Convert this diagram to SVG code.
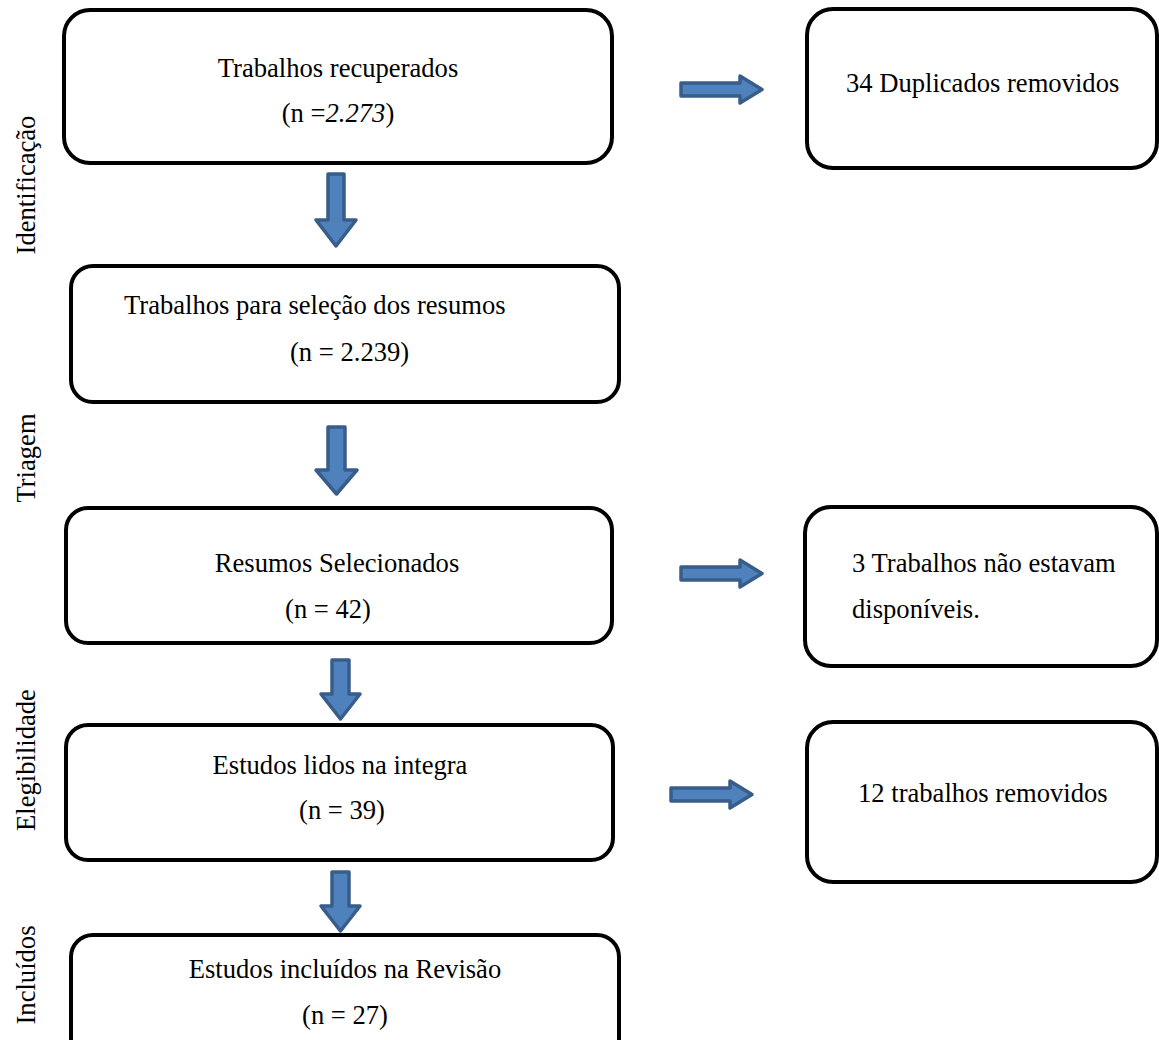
<svg xmlns="http://www.w3.org/2000/svg" width="1159" height="1040" viewBox="0 0 1159 1040">
<defs>
<style>
.box{fill:#fff;stroke:#000;stroke-width:4}
.arr{fill:#4F81BD;stroke:#385D8A;stroke-width:3.5;stroke-linejoin:round}
text{font-family:"Liberation Serif","Times New Roman",serif;font-size:26.6px;fill:#000}
.c{text-anchor:middle}
</style>
</defs>
<g id="labels">
<text class="c" transform="translate(35,185) rotate(-90)">Identificação</text>
<text class="c" transform="translate(35,458) rotate(-90)">Triagem</text>
<text class="c" transform="translate(35,760) rotate(-90)">Elegibilidade</text>
<text class="c" transform="translate(35,975) rotate(-90)">Incluídos</text>
</g>
<g id="connectors">
<path class="arr" d="M328,174 H344 V220 H356 L336,246 L316,220 H328 Z"/>
<path class="arr" d="M328,427 H345 V470 H357 L336.5,494 L316,470 H328 Z"/>
<path class="arr" d="M332,660 H349 V694 H360 L340.5,719 L321,694 H332 Z"/>
<path class="arr" d="M332,872 H349 V906 H360 L340.5,931 L321,906 H332 Z"/>
<path class="arr" d="M681,83 H740 V76 L762,89.5 L740,103 V96 H681 Z"/>
<path class="arr" d="M681,567 H740 V560 L762,573.5 L740,587 V580 H681 Z"/>
<path class="arr" d="M671,788 H730 V781 L752,794.5 L730,808 V801 H671 Z"/>
</g>
<g id="n1"><rect class="box" x="64" y="10" width="548" height="153" rx="26"/>
<text class="c" x="338" y="77">Trabalhos recuperados</text>
<text class="c" x="338" y="122">(n =<tspan font-style="italic">2.273</tspan>)</text></g>
<g id="n2"><rect class="box" x="807" y="9" width="350" height="159" rx="26"/>
<text x="846" y="92">34 Duplicados removidos</text></g>
<g id="n3"><rect class="box" x="71" y="266" width="548" height="136" rx="22"/>
<text x="124" y="314">Trabalhos para seleção dos resumos</text>
<text x="290" y="361">(n = 2.239)</text></g>
<g id="n4"><rect class="box" x="66" y="508" width="546" height="135" rx="22"/>
<text class="c" x="337" y="572">Resumos Selecionados</text>
<text class="c" x="328" y="618">(n = 42)</text></g>
<g id="n5"><rect class="box" x="805" y="507" width="352" height="159" rx="26"/>
<text x="852" y="572">3 Trabalhos não estavam</text>
<text x="852" y="618">disponíveis.</text></g>
<g id="n6"><rect class="box" x="66" y="725" width="547" height="135" rx="22"/>
<text class="c" x="340" y="774">Estudos lidos na integra</text>
<text class="c" x="342" y="819">(n = 39)</text></g>
<g id="n7"><rect class="box" x="807" y="722" width="350" height="160" rx="26"/>
<text x="858" y="802">12 trabalhos removidos</text></g>
<g id="n8"><rect class="box" x="71" y="935" width="548" height="130" rx="22"/>
<text class="c" x="345" y="978">Estudos incluídos na Revisão</text>
<text class="c" x="345" y="1024">(n = 27)</text></g>
</svg>
